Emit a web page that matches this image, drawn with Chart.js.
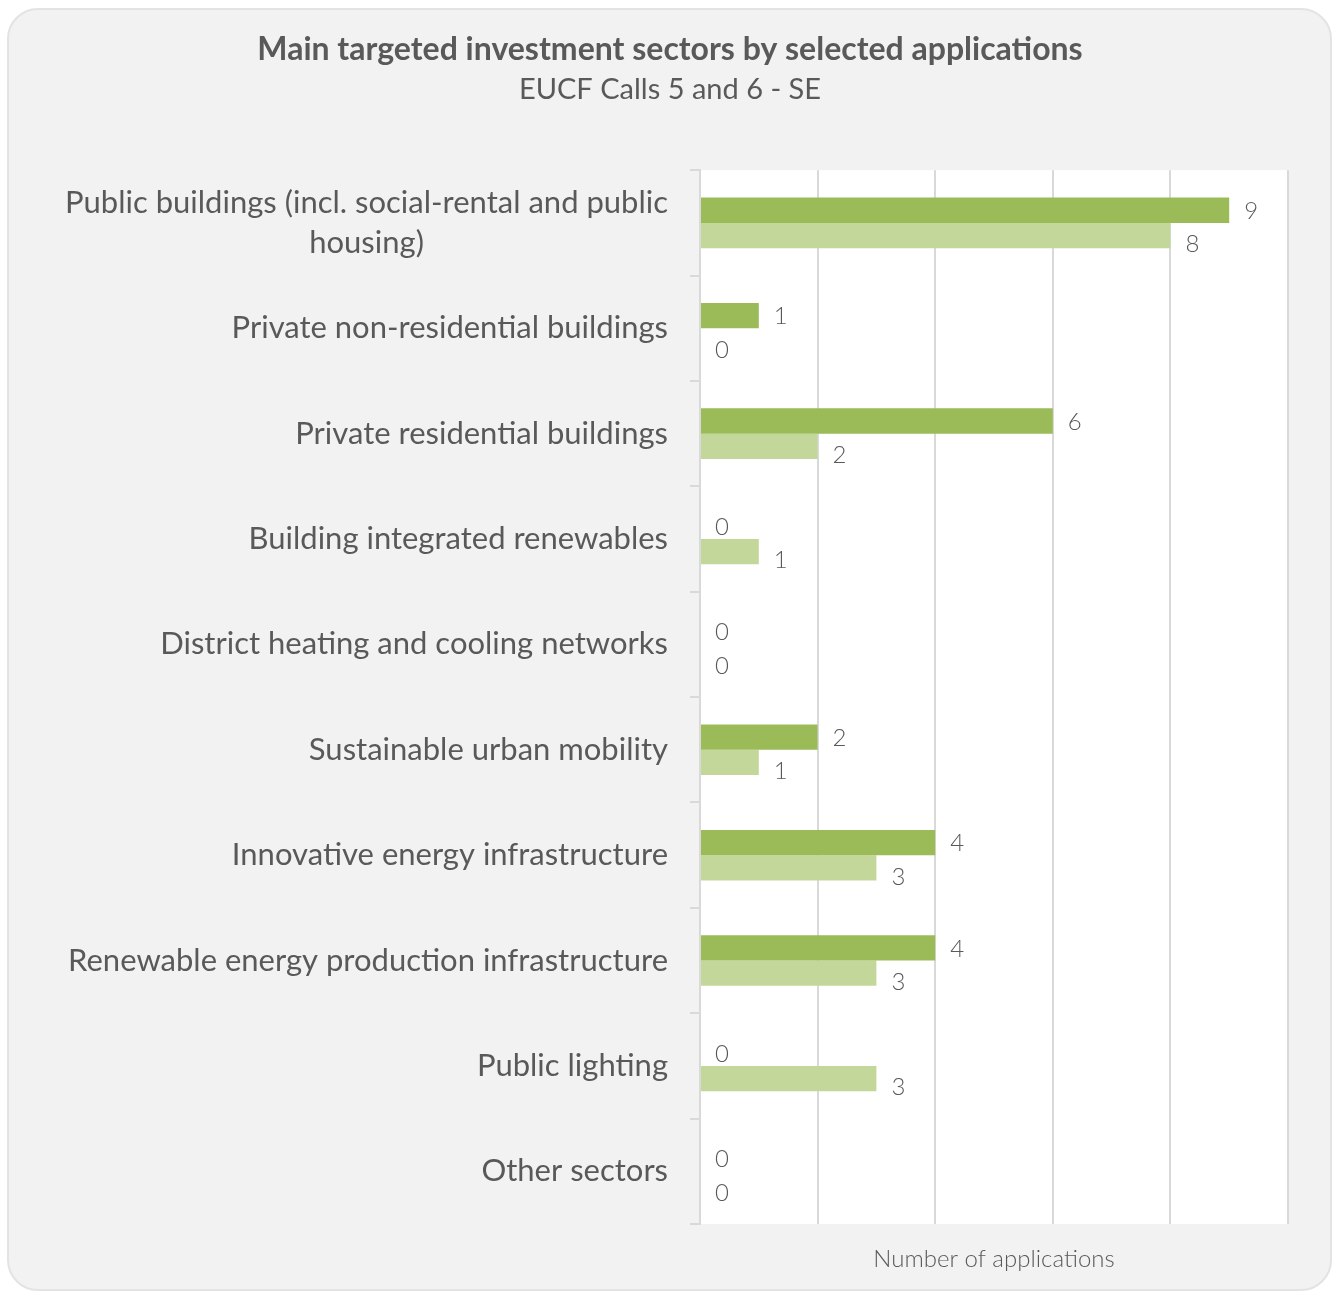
<!DOCTYPE html>
<html>
<head>
<meta charset="utf-8">
<title>Main targeted investment sectors</title>
<script src="https://cdn.jsdelivr.net/npm/chart.js@4"></script>
<style>
  html, body { margin: 0; padding: 0; background: #fff; }
  #wrap { width: 1333px; height: 1292px; }
</style>
</head>
<body>
<div id="wrap"><canvas id="myChart"></canvas></div>
<script>
// sectors, top to bottom; arrays are the wrapped label lines
const sectors = [
  ["Public buildings (incl. social-rental and public", "housing)"],
  ["Private non-residential buildings"],
  ["Private residential buildings"],
  ["Building integrated renewables"],
  ["District heating and cooling networks"],
  ["Sustainable urban mobility"],
  ["Innovative energy infrastructure"],
  ["Renewable energy production infrastructure"],
  ["Public lighting"],
  ["Other sectors"]
];
const call5 = [9, 1, 6, 0, 0, 2, 4, 4, 0, 0];
const call6 = [8, 0, 2, 1, 0, 1, 3, 3, 3, 0];
const xTicks = [0, 2, 4, 6, 8, 10];

const textColor = "#595959";
const fontName = "Lato, 'Open Sans', sans-serif";

// grey rounded card + white plot area
const cardBg = {
  id: "cardBg",
  beforeDraw(chart) {
    const ctx = chart.ctx;
    const w = chart.width, h = chart.height;
    ctx.save();
    ctx.fillStyle = "#ffffff";
    ctx.fillRect(0, 0, w, h);
    ctx.beginPath();
    ctx.roundRect(8, 9, w - 10, h - 11, 30);
    ctx.fillStyle = "#f2f2f2";
    ctx.fill();
    ctx.lineWidth = 2;
    ctx.strokeStyle = "#e3e3e3";
    ctx.stroke();
    const a = chart.chartArea;
    ctx.fillStyle = "#ffffff";
    ctx.fillRect(a.left, a.top, a.right - a.left, a.bottom - a.top);
    ctx.restore();
  }
};

// category names: block right-aligned, lines centred within the block
const sectorLabels = {
  id: "sectorLabels",
  afterDraw(chart) {
    const ctx = chart.ctx;
    const y = chart.scales.y;
    const right = y.right - 32;
    const lineH = 40;
    ctx.save();
    ctx.font = "31px " + fontName;
    ctx.fillStyle = textColor;
    ctx.textAlign = "center";
    ctx.textBaseline = "middle";
    sectors.forEach((lines, i) => {
      const widest = Math.max(...lines.map(l => ctx.measureText(l).width));
      const cx = right - widest / 2;
      const cy = y.getPixelForValue(i);
      const top = cy - (lines.length - 1) * lineH / 2;
      lines.forEach((l, j) => ctx.fillText(l, cx, top + j * lineH));
    });
    ctx.restore();
  }
};

// value next to the end of each bar
const valueLabels = {
  id: "valueLabels",
  afterDatasetsDraw(chart) {
    const ctx = chart.ctx;
    ctx.save();
    ctx.font = "300 24px " + fontName;
    ctx.fillStyle = textColor;
    ctx.textAlign = "left";
    ctx.textBaseline = "middle";
    chart.data.datasets.forEach((ds, di) => {
      const meta = chart.getDatasetMeta(di);
      meta.data.forEach((bar, i) => {
        const shift = di === 0 ? 1 : 9;
        ctx.fillText(ds.data[i], bar.x + 15, bar.y + shift);
      });
    });
    ctx.restore();
  }
};

new Chart("myChart", {
  type: "bar",
  data: {
    labels: sectors.map(s => s.join(" ")),
    datasets: [
      { label: "Call 5", data: call5, backgroundColor: "#9bbb59" },
      { label: "Call 6", data: call6, backgroundColor: "#c4d79b" }
    ]
  },
  options: {
    indexAxis: "y",
    responsive: true,
    maintainAspectRatio: false,
    animation: false,
    datasets: { bar: { categoryPercentage: 0.48, barPercentage: 1 } },
    layout: { padding: { left: 52, right: 45, top: 0, bottom: 0 } },
    scales: {
      x: {
        min: 0,
        max: 10,
        afterBuildTicks(scale) { scale.ticks = xTicks.map(v => ({ value: v })); },
        ticks: { display: false },
        grid: { color: "#d9d9d9", lineWidth: 2, drawTicks: false },
        border: { display: false },
        title: {
          display: true,
          text: "Number of applications",
          color: textColor,
          font: { family: fontName, size: 24, weight: 300 },
          padding: { top: 5, bottom: 18 }
        },
        afterFit(scale) { scale.height = 68; }
      },
      y: {
        ticks: { display: false },
        grid: { color: "#d9d9d9", lineWidth: 2, drawOnChartArea: false, tickLength: 10, offset: true },
        border: { color: "#d9d9d9", width: 2 },
        afterFit(scale) { scale.width = 648; }
      }
    },
    plugins: {
      legend: { display: false },
      tooltip: { enabled: false },
      title: {
        display: true,
        text: "Main targeted investment sectors by selected applications",
        color: textColor,
        font: { family: fontName, size: 32, weight: "bold", lineHeight: 1.2 },
        padding: { top: 30.8, bottom: 3.5 }
      },
      subtitle: {
        display: true,
        text: "EUCF Calls 5 and 6 - SE",
        color: textColor,
        font: { family: fontName, size: 29, lineHeight: 1.2 },
        padding: { top: 0, bottom: 62.7 }
      }
    }
  },
  plugins: [cardBg, sectorLabels, valueLabels]
});
</script>
</body>
</html>
